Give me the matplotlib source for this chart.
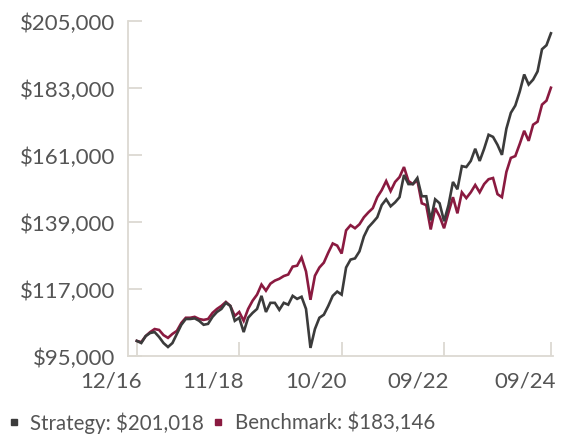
import matplotlib.pyplot as plt
import matplotlib.transforms as mtransforms
from matplotlib.lines import Line2D

# monthly values, 12/2016 .. 09/2024
strategy = [100000, 99300, 101600, 102600, 102900, 101300, 99300, 98000, 99300, 102300,
            105300, 107200, 107200, 107400, 106600, 105300, 105600, 107900, 109500, 110500,
            112500, 111500, 106600, 107600, 102900, 107600, 109200, 110500, 114800, 109500,
            112500, 112500, 110200, 112500, 111900, 114800, 113800, 114500, 110500, 97700,
            103900, 107600, 108600, 111500, 114800, 116200, 115200, 124100, 126700, 127100,
            129400, 134300, 137300, 138900, 140600, 144600, 146500, 144200, 145500, 147200,
            154500, 151500, 151500, 153500, 147500, 147500, 139600, 146500, 145200, 139300,
            144600, 152200, 149800, 157400, 157100, 159100, 163100, 159100, 163100, 167700,
            167000, 164400, 161100, 169700, 174900, 177300, 181900, 187500, 184200, 185800,
            188500, 195800, 197100, 201018]
benchmark = [100000, 99600, 101600, 102900, 103900, 103600, 101900, 101000, 102300, 103300,
             105900, 107600, 107600, 107900, 107200, 106900, 107200, 109200, 110500, 111500,
             112800, 111500, 108200, 109500, 106600, 110500, 113200, 115200, 118500, 116500,
             118800, 119800, 120400, 121300, 121800, 124400, 124700, 127400, 122800, 113500,
             121400, 124100, 125700, 129000, 132000, 131300, 128700, 136300, 138000, 137000,
             138300, 140600, 142200, 143600, 147200, 149500, 152500, 149200, 152200, 153800,
             157100, 152500, 151500, 152800, 145200, 144600, 136600, 143600, 140900, 137000,
             142200, 147200, 141900, 148800, 146900, 148800, 151200, 148800, 151500, 153100,
             153500, 148200, 147200, 155500, 160100, 160700, 164700, 169000, 165700, 171000,
             172000, 177600, 178900, 183146]

x_ticks = [0, 23, 46, 69, 93]
x_labels = ['12/16', '11/18', '10/20', '09/22', '09/24']
y_ticks = [95000, 117000, 139000, 161000, 183000, 205000]
legend_labels = ['Strategy: $201,018', 'Benchmark: $183,146']

dark = '#3b3b3b'
red = '#8a1a40'
grey = '#dcd9d2'
txt = '#555555'

plt.rcParams['font.family'] = ['Lato', 'DejaVu Sans']

W, H = 561, 435
fig = plt.figure(figsize=(W / 100, H / 100), dpi=100)
ax = fig.add_axes([0.228, 0.179, 0.758, 0.770])

months = list(range(len(strategy)))
ax.plot(months, benchmark, color=red, lw=1.9, solid_joinstyle='miter')
ax.plot(months, strategy, color=dark, lw=1.9, solid_joinstyle='miter')

ax.set_xlim(-2, 93.5)
ax.set_ylim(95000, 205000)
ax.set_xticks(x_ticks)
ax.set_xticklabels(x_labels, ha='right')
ax.set_yticks(y_ticks)
ax.set_yticklabels(['$' + format(v, ',') for v in y_ticks])

for s in ['top', 'right']:
    ax.spines[s].set_visible(False)
for s in ['left', 'bottom']:
    ax.spines[s].set_color(grey)
    ax.spines[s].set_linewidth(1.3)
ax.tick_params(axis='both', direction='in', length=10, width=1.3, color=grey,
               labelsize=16, labelcolor=txt)
ax.tick_params(axis='y', pad=9)
ax.tick_params(axis='x', pad=10)

# x labels sit just left of their ticks
shift = mtransforms.ScaledTranslation(5 / 100, 0, fig.dpi_scale_trans)
for lab in ax.get_xticklabels():
    lab.set_transform(lab.get_transform() + shift)

# legend row at the bottom
ly = 1 - 423 / H
for (mx, tx), col, lab in zip([(14, 30), (218, 235)], [dark, red], legend_labels):
    fig.add_artist(Line2D([mx / W], [ly], color=col, marker='s', markersize=4.5,
                          ls='none', transform=fig.transFigure))
    fig.text(tx / W, ly, lab, fontsize=14.8, color=txt, va='center', ha='left')

fig.savefig('out.png', dpi=100)
